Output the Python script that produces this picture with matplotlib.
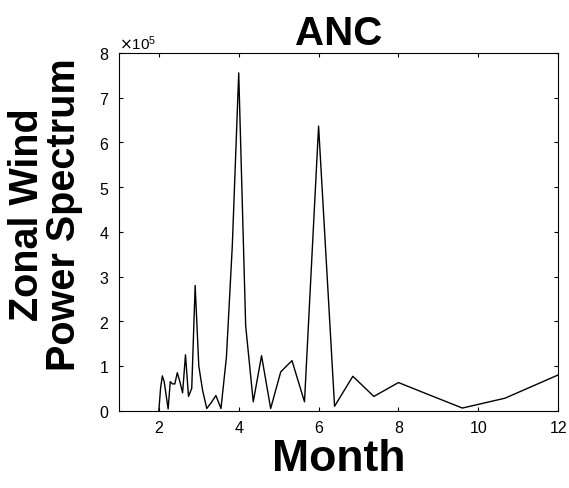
import numpy as np
import matplotlib
matplotlib.use('Agg')
import matplotlib.pyplot as plt

plt.rcParams['font.family'] = ['Liberation Sans', 'DejaVu Sans']

# harmonic index of a 96-month record -> period in months
harmonic = [48, 47, 46, 45, 44, 43, 42, 41, 40, 39, 38, 37, 36, 35, 34, 33,
            32, 31, 30, 29, 28, 27, 26, 25, 24, 23, 22, 21, 20, 19, 18, 17,
            16, 15, 14, 13, 12, 11, 10, 9, 8]
record_len = 96

# zonal wind power (units of 1e5)
power = [0.0, 0.5, 0.78, 0.65, 0.35, 0.04, 0.65, 0.6, 0.6, 0.85, 0.65, 0.4,
         1.25, 0.32, 0.5, 2.8, 1.0, 0.45, 0.05, 0.18, 0.34, 0.05, 1.2, 3.7,
         7.55, 1.9, 0.2, 1.23, 0.05, 0.87, 1.12, 0.2, 6.36, 0.1, 0.77, 0.32,
         0.63, 0.37, 0.06, 0.28, 0.8]

period = record_len / np.array(harmonic, dtype=float)
power = np.array(power) * 1e5

fig = plt.figure(figsize=(5.69, 4.89), dpi=100)
ax = fig.add_axes([0.209, 0.158, 0.772, 0.732])

ax.plot(period, power, color='k', linewidth=1.0)

ax.set_xlim(1, 12)
ax.set_ylim(0, 8e5)
ax.set_xticks([2, 4, 6, 8, 10, 12])
ax.set_yticks(np.arange(0, 9) * 1e5)
ax.ticklabel_format(axis='y', style='sci', scilimits=(0, 0), useMathText=True)
ax.yaxis.get_offset_text().set_fontsize(11)
ax.tick_params(direction='in', length=3, width=0.8, top=True, right=True,
               labelsize=11.5, pad=7)

ax.set_title('ANC', fontsize=29, fontweight='bold', pad=6)
ax.set_xlabel('Month', fontsize=32, fontweight='bold', labelpad=2)
ax.set_ylabel('Zonal Wind\nPower Spectrum', fontsize=28.5, fontweight='bold',
              linespacing=0.95)
ax.yaxis.set_label_coords(-0.082, 0.55)

fig.savefig('out.png', dpi=100)
